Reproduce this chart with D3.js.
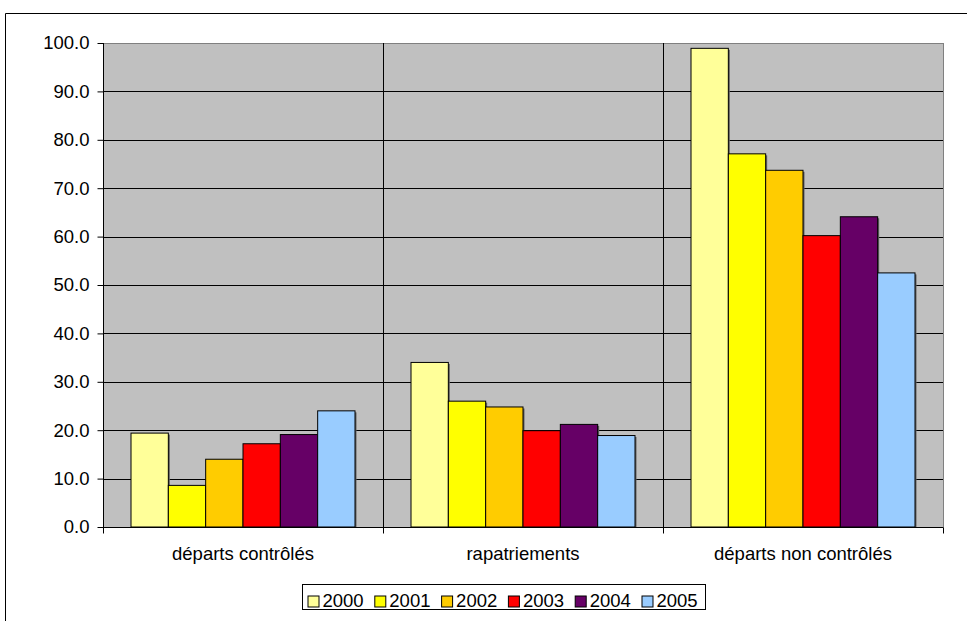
<!DOCTYPE html>
<html>
<head>
<meta charset="utf-8">
<script src="https://cdn.jsdelivr.net/npm/d3@7"></script>
<style>
  body { margin: 0; background: #fff; }
  text { font-family: Arial, "Liberation Sans", sans-serif; fill: #000; }
</style>
</head>
<body>
<script>
const categories = ["départs contrôlés", "rapatriements", "départs non contrôlés"];
const years = ["2000", "2001", "2002", "2003", "2004", "2005"];
const colors = ["#FFFF99", "#FFFF00", "#FFCC00", "#FF0000", "#660066", "#99CCFF"];
const values2000 = [19.4, 34.0, 98.9];
const values2001 = [8.6, 26.0, 77.1];
const values2002 = [14.0, 24.8, 73.7];
const values2003 = [17.2, 19.9, 60.2];
const values2004 = [19.1, 21.2, 64.1];
const values2005 = [24.0, 18.9, 52.5];
const series = [values2000, values2001, values2002, values2003, values2004, values2005];
const yTicks = [0, 10, 20, 30, 40, 50, 60, 70, 80, 90, 100];

const W = 967, H = 621;
const svg = d3.select("body").append("svg")
    .attr("width", W)
    .attr("height", H);

// outer chart border (left and top only visible)
svg.append("path")
    .attr("d", "M5.5,621 V13.5 H967")
    .attr("fill", "none")
    .attr("stroke", "#000")
    .attr("stroke-width", 1);

const pLeft = 103, pRight = 943, pTop = 43, pBottom = 527;

const x = d3.scaleBand().domain(categories).range([pLeft, pRight]).paddingInner(0).paddingOuter(0);
const x1 = d3.scaleBand().domain(years).range([0, x.bandwidth()]).paddingInner(0).paddingOuter(0.75);
const y = d3.scaleLinear().domain([0, 100]).range([pBottom, pTop]);

// plot background
svg.append("rect")
    .attr("x", pLeft + 0.5).attr("y", pTop + 0.5)
    .attr("width", pRight - pLeft).attr("height", pBottom - pTop)
    .attr("fill", "#C0C0C0")
    .attr("stroke", "#808080")
    .attr("stroke-width", 1);

// horizontal gridlines
svg.append("g")
    .selectAll("line")
    .data(yTicks.filter(d => d > 0 && d < 100))
    .enter()
    .append("line")
    .attr("x1", pLeft).attr("x2", pRight)
    .attr("y1", d => Math.round(y(d)) + 0.5)
    .attr("y2", d => Math.round(y(d)) + 0.5)
    .attr("stroke", "#000")
    .attr("stroke-width", 1);

// vertical category separators
svg.append("g")
    .selectAll("line")
    .data(categories.slice(1))
    .enter()
    .append("line")
    .attr("x1", d => Math.round(x(d)) + 0.5)
    .attr("x2", d => Math.round(x(d)) + 0.5)
    .attr("y1", pTop).attr("y2", pBottom)
    .attr("stroke", "#000")
    .attr("stroke-width", 1);

// bars
const groups = svg.append("g")
    .selectAll("g")
    .data(categories)
    .enter()
    .append("g")
    .attr("transform", d => `translate(${x(d)},0)`);

// soft shadow under each bar
groups.selectAll("rect.shadow")
    .data((c, ci) => years.map((yr, i) => ({ yr: yr, v: series[i][ci], color: colors[i] })))
    .enter()
    .append("rect")
    .attr("class", "shadow")
    .attr("x", d => x1(d.yr) + 1.5)
    .attr("y", d => y(d.v) + 1.5)
    .attr("width", x1.bandwidth())
    .attr("height", d => y(0) - y(d.v) - 1.5)
    .attr("fill", "#606060");

groups.selectAll("rect.bar")
    .data((c, ci) => years.map((yr, i) => ({ yr: yr, v: series[i][ci], color: colors[i] })))
    .enter()
    .append("rect")
    .attr("class", "bar")
    .attr("x", d => x1(d.yr))
    .attr("y", d => y(d.v))
    .attr("width", x1.bandwidth())
    .attr("height", d => y(0) - y(d.v))
    .attr("fill", d => d.color)
    .attr("stroke", "#000")
    .attr("stroke-width", 1);

// y axis
const yAxis = svg.append("g")
    .attr("transform", `translate(${pLeft + 0.5},0)`)
    .call(d3.axisLeft(y).tickValues(yTicks).tickFormat(d3.format(".1f")).tickSize(6).tickPadding(8));
yAxis.select(".domain").attr("stroke", "#000").attr("d", `M0,${pTop}V${pBottom}`);
yAxis.selectAll("text")
    .style("font-size", "18.5px")
    .attr("font-family", "Arial, 'Liberation Sans', sans-serif");

// x axis
const xAxis = svg.append("g")
    .attr("transform", `translate(0,${pBottom + 0.5})`);
xAxis.append("line")
    .attr("x1", pLeft).attr("x2", pRight)
    .attr("stroke", "#000");
xAxis.selectAll("line.tick")
    .data([pLeft, ...categories.slice(1).map(c => x(c)), pRight])
    .enter()
    .append("line")
    .attr("class", "tick")
    .attr("x1", d => Math.round(d) + 0.5).attr("x2", d => Math.round(d) + 0.5)
    .attr("y1", 0).attr("y2", 6)
    .attr("stroke", "#000");
xAxis.selectAll("text")
    .data(categories)
    .enter()
    .append("text")
    .attr("x", d => x(d) + x.bandwidth() / 2)
    .attr("y", 32.5)
    .attr("text-anchor", "middle")
    .style("font-size", "18.5px")
    .text(d => d);

// legend
const legend = svg.append("g");
legend.append("rect")
    .attr("x", 302.5).attr("y", 584.5)
    .attr("width", 403).attr("height", 25)
    .attr("fill", "#fff")
    .attr("stroke", "#000");
const item = legend.selectAll("g.item")
    .data(years)
    .enter()
    .append("g")
    .attr("class", "item")
    .attr("transform", (d, i) => `translate(${307.5 + i * 66.8},0)`);
item.append("rect")
    .attr("x", 0.5).attr("y", 596)
    .attr("width", 11).attr("height", 11)
    .attr("fill", (d, i) => colors[i])
    .attr("stroke", "#000");
item.append("text")
    .attr("x", 15)
    .attr("y", 606.5)
    .style("font-size", "18.5px")
    .text(d => d);
</script>
</body>
</html>
